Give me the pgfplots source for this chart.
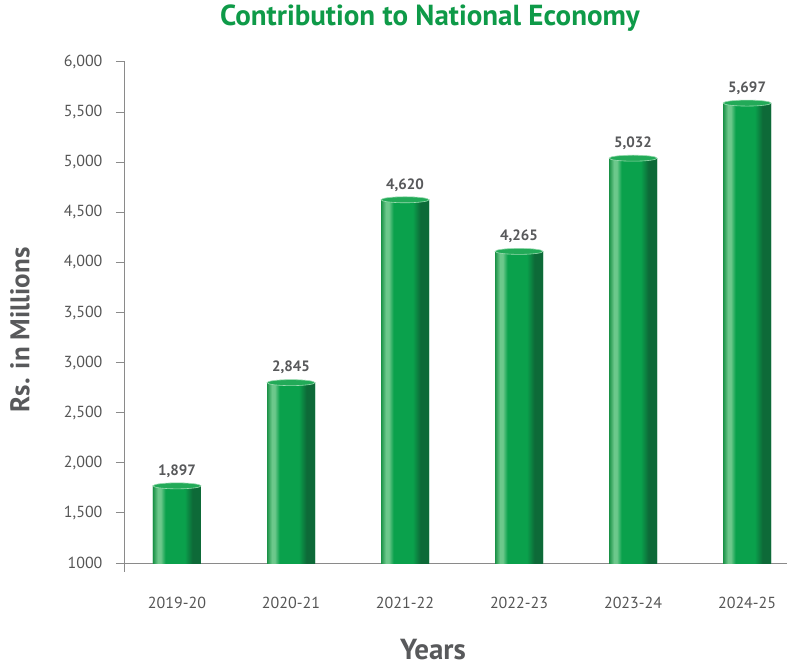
\documentclass[border=0pt]{standalone}
\usepackage{pgfplots}
\pgfplotsset{compat=1.18}
\usepackage{pgfplotstable}
\usepackage{fontspec}
\setmainfont{PT Sans}
\definecolor{titlegreen}{HTML}{0E9A48}
\definecolor{labgray}{HTML}{58595B}
\definecolor{tickgray}{HTML}{555555}
\definecolor{axgray}{HTML}{8A8A8A}
\definecolor{gL}{HTML}{1B9247}
\definecolor{gH}{HTML}{6CC88B}
\definecolor{gM}{HTML}{0AA14C}
\definecolor{gD}{HTML}{0D6A38}
\definecolor{gTop}{HTML}{22AA58}
\definecolor{gRim}{HTML}{9ADBB0}
\pgfdeclarehorizontalshading{cyl}{100bp}{color(0bp)=(gL); color(25bp)=(gL); color(30bp)=(gH); color(33bp)=(gH); color(38bp)=(gM); color(58bp)=(gM); color(66bp)=(gD); color(75bp)=(gD); color(100bp)=(gD)}
\pgfdeclareplotmark{cyltop}{%
  \pgfpathellipse{\pgfpointorigin}{\pgfpoint{24pt}{0pt}}{\pgfpoint{0pt}{3pt}}%
  \pgfusepathqfillstroke}
\pgfplotstableread{
x y lab
0 1770 1,897
1 2800 2,845
2 4625 4,620
3 4110 4,265
4 5040 5,032
5 5590 5,697
}\datatable
\pgfplotsset{cylbar/.style={ybar, bar width=48pt, bar shift=0pt, draw=none, shading=cyl,
  point meta=explicit symbolic, nodes near coords,
  every node near coord/.append style={font=\bfseries\fontsize{15}{18}\selectfont, text=labgray, anchor=south, yshift=5pt}}}
\begin{document}
\begin{tikzpicture}
\path[use as bounding box] (-125pt,-104pt) rectangle (662pt,563pt);
\begin{axis}[
  at={(0pt,0pt)}, anchor=south west,
  scale only axis, width=662pt, height=501pt,
  xmin=-0.456, xmax=5.35, ymin=1000, ymax=6000,
  axis x line=bottom, axis y line=left,
  axis line style={draw=axgray, line width=1pt, -},
  xtick={0,1,2,3,4,5},
  xticklabels={2019-20,2020-21,2021-22,2022-23,2023-24,2024-25},
  x tick style={draw=none},
  ytick={1000,1500,2000,2500,3000,3500,4000,4500,5000,5500,6000},
  yticklabels={1000,{1,500},{2,000},{2,500},{3,000},{3,500},{4,000},{4,500},{5,000},{5,500},{6,000}},
  y tick style={draw=axgray, line width=1pt},
  tick align=outside, major tick length=9pt,
  /pgf/number format/assume math mode=true,
  x tick label style={font=\fontsize{16}{19}\selectfont, text=tickgray, yshift=-22pt},
  y tick label style={font=\fontsize{16}{19}\selectfont, text=tickgray, xshift=-10pt},
  clip=false,
]
\addplot[cylbar] table[x=x, y=y, meta=lab] {\datatable};
\pgfplotsinvokeforeach{0,...,5}{%
  \addplot[cylbar, nodes near coords={}] table[x=x, y=y, restrict expr to domain={\thisrow{x}}{#1:#1}] {\datatable};
}
\addplot[only marks, mark=cyltop, mark options={fill=gTop, draw=gRim, line width=0.6pt}]
  table[x=x, y=y] {\datatable};
\draw[axgray, line width=1pt] (rel axis cs:0,0) -- ([yshift=-9pt]rel axis cs:0,0);
\end{axis}
\node[font=\bfseries\fontsize{29}{34}\selectfont, text=titlegreen] at (305pt,545pt) {Contribution to National Economy};
\node[font=\bfseries\fontsize{27}{32}\selectfont, text=labgray, rotate=90] at (-105pt,233pt) {Rs. in Millions};
\node[font=\bfseries\fontsize{29}{34}\selectfont, text=labgray, anchor=base, inner sep=0pt] at (308pt,-96pt) {Years};
\end{tikzpicture}
\end{document}
